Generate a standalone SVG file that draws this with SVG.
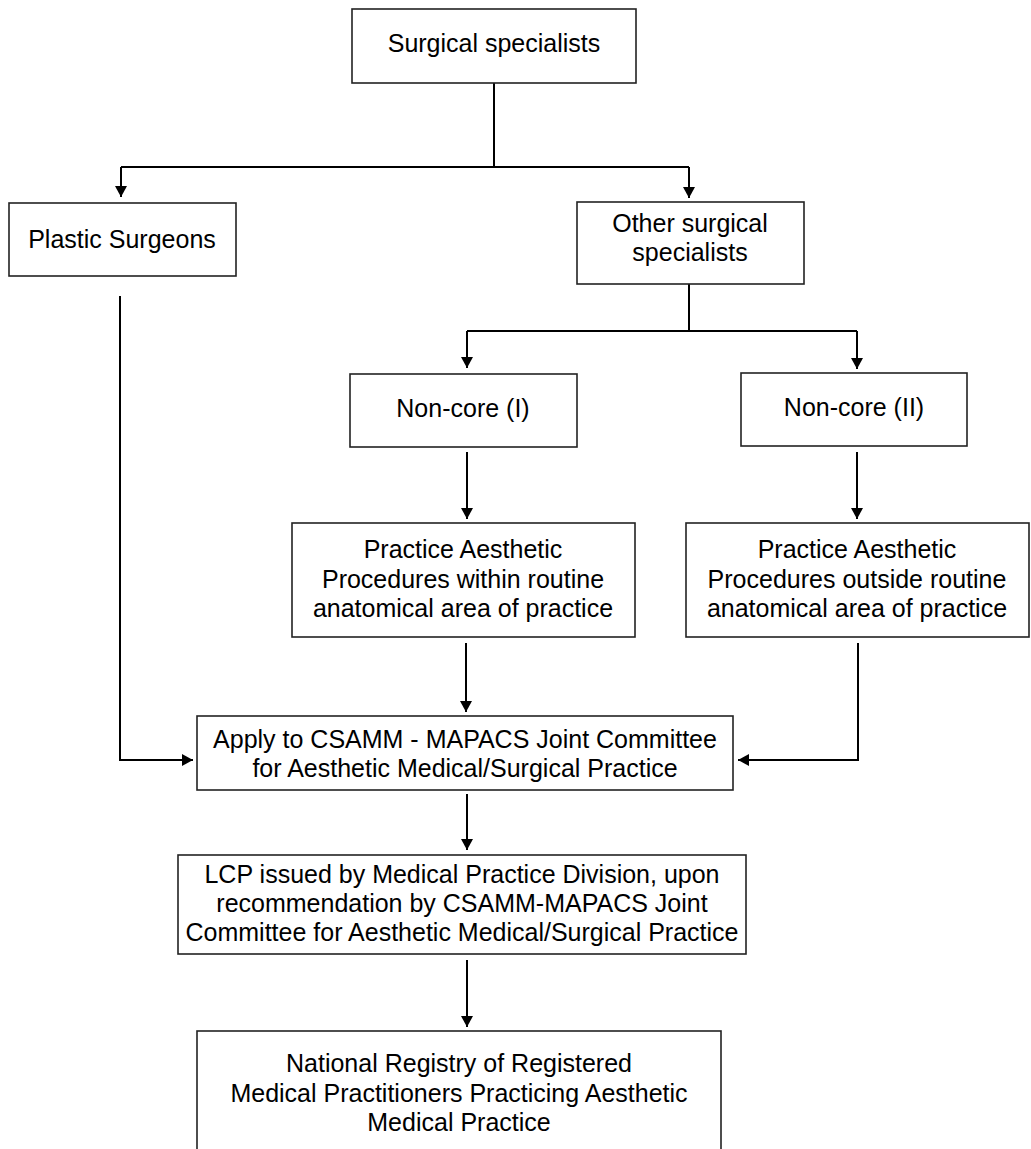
<svg xmlns="http://www.w3.org/2000/svg" width="1031" height="1149" viewBox="0 0 1031 1149">
<style>
.box{fill:#fff;stroke:#222;stroke-width:1.6}
.t{font-family:"Liberation Sans",Arial,sans-serif;font-size:25px;fill:#000;text-anchor:middle}
.c{fill:none;stroke:#000;stroke-width:2}
</style>
<defs>
<marker id="ah" markerUnits="userSpaceOnUse" markerWidth="12" markerHeight="12" refX="11" refY="6" orient="auto">
<path d="M0,0 L11,6 L0,12 z" fill="#000"/>
</marker>
</defs>
<rect width="1031" height="1149" fill="#fff"/>
<g id="connectors">
<path class="c" d="M494,83 V167"/>
<path class="c" d="M121,167 H689"/>
<path class="c" d="M121,167 V197" marker-end="url(#ah)"/>
<path class="c" d="M689,167 V198" marker-end="url(#ah)"/>
<path class="c" d="M689,284 V331"/>
<path class="c" d="M467,331 H857"/>
<path class="c" d="M467,331 V368" marker-end="url(#ah)"/>
<path class="c" d="M857,331 V369" marker-end="url(#ah)"/>
<path class="c" d="M467,452 V519" marker-end="url(#ah)"/>
<path class="c" d="M857,452 V519" marker-end="url(#ah)"/>
<path class="c" d="M120,296 V760 H193" marker-end="url(#ah)"/>
<path class="c" d="M858,643 V760 H738" marker-end="url(#ah)"/>
<path class="c" d="M466,643 V712" marker-end="url(#ah)"/>
<path class="c" d="M467,794 V850" marker-end="url(#ah)"/>
<path class="c" d="M467,960 V1027" marker-end="url(#ah)"/>
</g>
<g id="surgical-specialists">
<rect class="box" x="352" y="9" width="284" height="74"/>
<text class="t" x="494" y="52">Surgical specialists</text>
</g>
<g id="plastic-surgeons">
<rect class="box" x="9" y="203" width="227" height="73"/>
<text class="t" x="122" y="248">Plastic Surgeons</text>
</g>
<g id="other-surgical">
<rect class="box" x="577" y="202" width="227" height="82"/>
<text class="t" x="690" y="232">Other surgical</text>
<text class="t" x="690" y="261">specialists</text>
</g>
<g id="non-core-1">
<rect class="box" x="350" y="374" width="227" height="73"/>
<text class="t" x="463" y="417">Non-core (I)</text>
</g>
<g id="non-core-2">
<rect class="box" x="741" y="373" width="226" height="73"/>
<text class="t" x="854" y="416">Non-core (II)</text>
</g>
<g id="practice-within">
<rect class="box" x="292" y="523" width="343" height="114"/>
<text class="t" x="463" y="558">Practice Aesthetic</text>
<text class="t" x="463" y="588">Procedures within routine</text>
<text class="t" x="463" y="617">anatomical area of practice</text>
</g>
<g id="practice-outside">
<rect class="box" x="686" y="523" width="343" height="114"/>
<text class="t" x="857" y="558">Practice Aesthetic</text>
<text class="t" x="857" y="588">Procedures outside routine</text>
<text class="t" x="857" y="617">anatomical area of practice</text>
</g>
<g id="apply">
<rect class="box" x="197" y="716" width="536" height="74"/>
<text class="t" x="465" y="748">Apply to CSAMM - MAPACS Joint Committee</text>
<text class="t" x="465" y="777">for Aesthetic Medical/Surgical Practice</text>
</g>
<g id="lcp">
<rect class="box" x="178" y="855" width="568" height="99"/>
<text class="t" x="462" y="883">LCP issued by Medical Practice Division, upon</text>
<text class="t" x="462" y="912">recommendation by CSAMM-MAPACS Joint</text>
<text class="t" x="462" y="941">Committee for Aesthetic Medical/Surgical Practice</text>
</g>
<g id="national-registry">
<rect class="box" x="197" y="1031" width="524" height="140"/>
<text class="t" x="459" y="1072">National Registry of Registered</text>
<text class="t" x="459" y="1102">Medical Practitioners Practicing Aesthetic</text>
<text class="t" x="459" y="1131">Medical Practice</text>
</g>
</svg>
